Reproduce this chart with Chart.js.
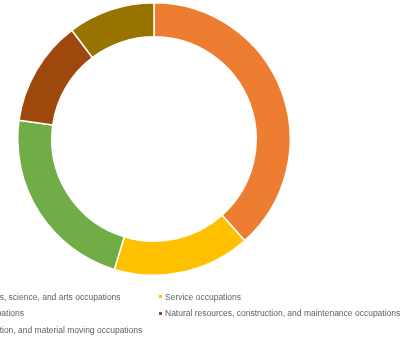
<!DOCTYPE html>
<html>
<head>
<meta charset="utf-8">
<script src="https://cdn.jsdelivr.net/npm/chart.js@4.4.1/dist/chart.umd.min.js"></script>
<style>
    html, body { margin: 0; padding: 0; background: #fff; }
    #frame { position: relative; width: 406px; height: 342px; overflow: hidden; background: #fff; }
    #ringBox { position: absolute; left: 17px; top: 2px; width: 274px; height: 274px; }
    #legend { position: absolute; left: 0; top: 0; width: 406px; height: 342px; font-family: "Liberation Sans", Arial, sans-serif; font-size: 8.5px; color: #5f5f5f; }
    .item { position: absolute; white-space: nowrap; line-height: 10px; }
    .item i { position: absolute; left: -6px; top: 3.5px; width: 3px; height: 3px; }
</style>
</head>
<body>
<div id="frame">
    <div id="ringBox"><canvas id="occChart"></canvas></div>
    <div id="legend"></div>
</div>
<script>
// share of employed population by occupation group (%)
const categories = [
    'Management, business, science, and arts occupations',
    'Service occupations',
    'Sales and office occupations',
    'Natural resources, construction, and maintenance occupations',
    'Production, transportation, and material moving occupations'
];
const shares = [38.4, 16.3, 22.5, 12.5, 10.3];
const sliceColors = ['#ED7D31', '#FFC000', '#70AD47', '#9E480E', '#997300'];

(function(){
    try {
        const ctx = document.getElementById('occChart');
        if (ctx && window.Chart) {
            window.__OCC_CHART = new Chart(ctx, {
                type: 'doughnut',
                data: {
                    labels: categories,
                    datasets: [{
                        data: shares,
                        backgroundColor: sliceColors,
                        borderColor: '#ffffff',
                        borderWidth: 1.5,
                        hoverOffset: 0
                    }]
                },
                options: {
                    responsive: true,
                    maintainAspectRatio: false,
                    animation: false,
                    cutout: '75%',
                    layout: { padding: 0 },
                    plugins: {
                        legend: { display: false },
                        tooltip: { enabled: false }
                    }
                }
            });
        }
    } catch (err) {
        console.error('occChart init error', err);
    }

    // two-column legend below the ring, filled row by row
    const legend = document.getElementById('legend');
    const colX = [-84, 165];
    const rowY = [291.5, 308, 325];
    categories.forEach((name, i) => {
        const el = document.createElement('div');
        el.className = 'item';
        el.style.left = colX[i % 2] + 'px';
        el.style.top = rowY[Math.floor(i / 2)] + 'px';
        el.innerHTML = '<i style="background:' + sliceColors[i] + '"></i>' + name;
        legend.appendChild(el);
    });
})();
</script>
</body>
</html>
